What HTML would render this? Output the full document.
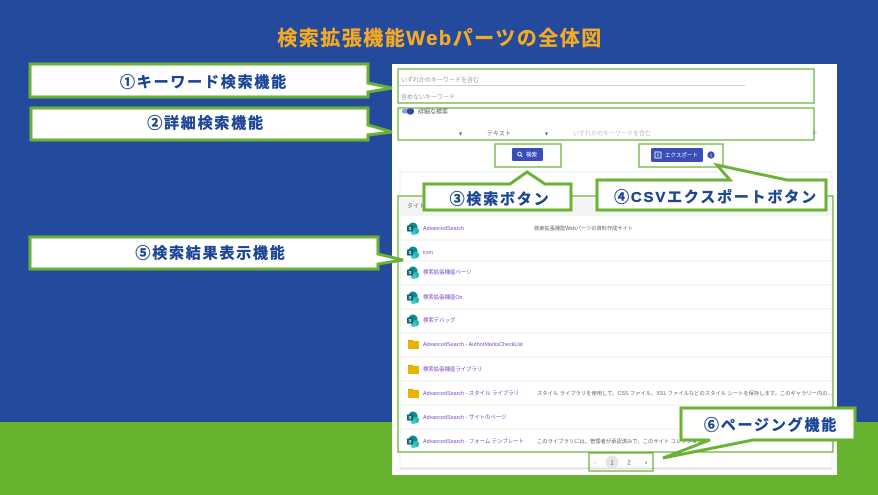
<!DOCTYPE html>
<html><head><meta charset="utf-8"><style>
html,body{margin:0;padding:0;width:878px;height:495px;overflow:hidden;background:#244A9E;}
svg{display:block;}
.ui{font-family:"Liberation Sans","Noto Sans CJK JP",sans-serif;}
.co{font-family:"Liberation Sans","Noto Sans CJK JP",sans-serif;font-weight:bold;font-size:15px;fill:#1A4496;stroke:#1A4496;stroke-width:0.35px;letter-spacing:1.8px;}
</style></head><body>
<svg width="878" height="495" viewBox="0 0 878 495" xmlns="http://www.w3.org/2000/svg">
<rect x="0" y="0" width="878" height="422" fill="#244A9E"/>
<rect x="0" y="422" width="878" height="73" fill="#67B22E"/>
<text x="440" y="45" text-anchor="middle" font-family="Liberation Sans,Noto Sans CJK JP,sans-serif" font-weight="bold" font-size="20" fill="#F4AA22" stroke="#F4AA22" stroke-width="0.3" style="letter-spacing:1.5px">検索拡張機能Webパーツの全体図</text>

<!-- screenshot -->
<rect x="392" y="64" width="445" height="411" fill="#ffffff"/>
<g class="ui">
<!-- keyword box -->
<text x="401" y="82" font-size="6" fill="#9a9a9a">いずれかのキーワードを含む</text>
<line x1="399" y1="85.5" x2="745" y2="85.5" stroke="#cfcfcf" stroke-width="1"/>
<text x="401" y="99" font-size="6" fill="#9a9a9a">含めないキーワード</text>
<rect x="398" y="69" width="416" height="34" fill="none" stroke="#6DB33F" stroke-width="1.3"/>
<!-- detail -->
<rect x="402" y="109" width="11" height="4.5" rx="2.2" fill="#8E9BDB"/>
<circle cx="410.5" cy="111.2" r="3.5" fill="#3344B0"/>
<text x="418" y="113.5" font-size="6" fill="#555">詳細な検索</text>
<text x="459" y="135.5" font-size="6" fill="#555">▾</text>
<text x="487" y="135.5" font-size="6" fill="#666">テキスト</text>
<text x="545" y="135.5" font-size="6" fill="#555">▾</text>
<text x="573" y="135.5" font-size="6" fill="#bdbdbd">いずれかのキーワードを含む</text>
<text x="812" y="136" font-size="9" fill="#8A96D6">+</text>
<rect x="398" y="108" width="416" height="32" fill="none" stroke="#6DB33F" stroke-width="1.3"/>
<!-- search button -->
<rect x="512" y="148" width="31" height="13" rx="1.5" fill="#3B4DB8"/>
<circle cx="519.5" cy="154" r="1.8" fill="none" stroke="#fff" stroke-width="0.9"/>
<line x1="520.8" y1="155.3" x2="522.3" y2="156.8" stroke="#fff" stroke-width="0.9"/>
<text x="526" y="156.5" font-size="5.5" fill="#fff">検索</text>
<rect x="495" y="144" width="66" height="23" fill="none" stroke="#6DB33F" stroke-width="1.3"/>
<!-- export -->
<rect x="651" y="148" width="52" height="14" rx="1.5" fill="#3B4DB8"/>
<rect x="655" y="152" width="6" height="6" fill="none" stroke="#fff" stroke-width="0.8"/>
<line x1="658" y1="153.5" x2="658" y2="156.5" stroke="#fff" stroke-width="0.8"/>
<text x="665" y="157" font-size="5.5" fill="#fff">エクスポート</text>
<circle cx="711" cy="155" r="3.6" fill="#3B4DB8"/>
<text x="711" y="157" font-size="5" fill="#fff" text-anchor="middle">i</text>
<rect x="639" y="144" width="84" height="23" fill="none" stroke="#6DB33F" stroke-width="1.3"/>

<!-- results card -->
<rect x="400" y="172" width="432" height="296" fill="#fff" stroke="#ececec" stroke-width="1"/>
<rect x="400" y="197" width="432" height="19" fill="#f4f4f4"/>
<text x="407" y="208" font-size="6" fill="#777">タイトル</text>
<g stroke="#ededed" stroke-width="1">
<line x1="400" y1="240" x2="832" y2="240"/><line x1="400" y1="261" x2="832" y2="261"/>
<line x1="400" y1="285" x2="832" y2="285"/><line x1="400" y1="309" x2="832" y2="309"/>
<line x1="400" y1="333" x2="832" y2="333"/><line x1="400" y1="357" x2="832" y2="357"/>
<line x1="400" y1="381" x2="832" y2="381"/><line x1="400" y1="405" x2="832" y2="405"/>
<line x1="400" y1="429" x2="832" y2="429"/>
</g>
<defs>
<g id="sp">
<circle cx="5" cy="-1" r="4.5" fill="#0B8B8F"/>
<circle cx="8" cy="3" r="3.2" fill="#2CB5B5"/>
<circle cx="5.5" cy="4.5" r="2.5" fill="#37C6D0"/>
<rect x="-1" y="-2.5" width="6" height="6" rx="0.8" fill="#03686C"/>
<text x="2" y="2.2" font-size="4.5" fill="#fff" text-anchor="middle" font-family="Liberation Sans,sans-serif" font-weight="bold">S</text>
</g>
<g id="fd">
<rect x="0" y="-4" width="5" height="2" fill="#D9A400"/>
<rect x="0" y="-3" width="11" height="8" fill="#E8B400"/>
</g>
</defs>
<g font-size="5.4" fill="#7A4BC4">
<use href="#sp" x="408" y="228"/><text x="423" y="230">AdvancedSearch</text>
<use href="#sp" x="408" y="252"/><text x="423" y="254">icon</text>
<use href="#sp" x="408" y="272"/><text x="423" y="274">検索拡張機能ページ</text>
<use href="#sp" x="408" y="297"/><text x="423" y="299">検索拡張機能On</text>
<use href="#sp" x="408" y="320"/><text x="423" y="322">検索デバッグ</text>
<use href="#fd" x="408" y="344"/><text x="423" y="346">AdvancedSearch - AuthorMarksCheckList</text>
<use href="#fd" x="408" y="369"/><text x="423" y="371">検索拡張機能ライブラリ</text>
<use href="#fd" x="408" y="393"/><text x="423" y="395">AdvancedSearch - スタイル ライブラリ</text>
<use href="#sp" x="408" y="417"/><text x="423" y="419">AdvancedSearch - サイトのページ</text>
<use href="#sp" x="408" y="441"/><text x="423" y="443">AdvancedSearch - フォーム テンプレート</text>
</g>
<g font-size="5.3" fill="#666">
<text x="534" y="230" textLength="99" lengthAdjust="spacingAndGlyphs">検索拡張機能Webパーツの資料作成サイト</text>
<text x="537" y="395" textLength="295" lengthAdjust="spacingAndGlyphs">スタイル ライブラリを使用して、CSS ファイル、XSL ファイルなどのスタイル シートを保存します。このギャラリー内の...</text>
<text x="537" y="443">このライブラリには、管理者が承認済みで、このサイト コレクションに...</text>
</g>
<rect x="398" y="196" width="435" height="256" fill="none" stroke="#6DB33F" stroke-width="1.3"/>
<!-- pagination -->
<line x1="400" y1="468.5" x2="832" y2="468.5" stroke="#dcdcdc" stroke-width="1.5"/>
<text x="594" y="464.5" font-size="7" fill="#bbb">‹</text>
<circle cx="612" cy="462" r="6.5" fill="#e6e6e6"/>
<text x="612" y="464.5" font-size="6" fill="#555" text-anchor="middle">1</text>
<text x="629" y="464.5" font-size="6" fill="#555" text-anchor="middle">2</text>
<text x="645" y="464.5" font-size="7" fill="#444">›</text>
<rect x="589" y="453" width="64" height="18" fill="none" stroke="#6DB33F" stroke-width="1.3"/>
</g>

<!-- callouts -->
<g fill="#fff" stroke="#6AB236" stroke-width="3" stroke-linejoin="miter">
<path d="M30,64 L368,64 L368,83 L392,88 L368,92 L368,97 L30,97 Z"/>
<path d="M31,108 L368,108 L368,125 L392,132 L368,135 L368,140 L31,140 Z"/>
<path d="M30,237 L378,237 L378,254 L403,260 L378,264 L378,269 L30,269 Z"/>
<path d="M424,184 L510,184 L527,172 L545,184 L571,184 L571,210 L424,210 Z"/>
<path d="M597,180 L730,180 L717,165 L787,180 L826,180 L826,210 L597,210 Z"/>
<path d="M681,408 L855,408 L855,440 L753,440 L663,458 L710,440 L681,440 Z"/>
</g>
<text class="co" x="204" y="87" text-anchor="middle">①キーワード検索機能</text>
<text class="co" x="206" y="128" text-anchor="middle">②詳細検索機能</text>
<text class="co" x="211" y="258" text-anchor="middle">⑤検索結果表示機能</text>
<text class="co" x="500" y="204" text-anchor="middle">③検索ボタン</text>
<text class="co" x="716" y="202" text-anchor="middle">④CSVエクスポートボタン</text>
<text class="co" x="771" y="430" text-anchor="middle">⑥ページング機能</text>
</svg>
</body></html>
